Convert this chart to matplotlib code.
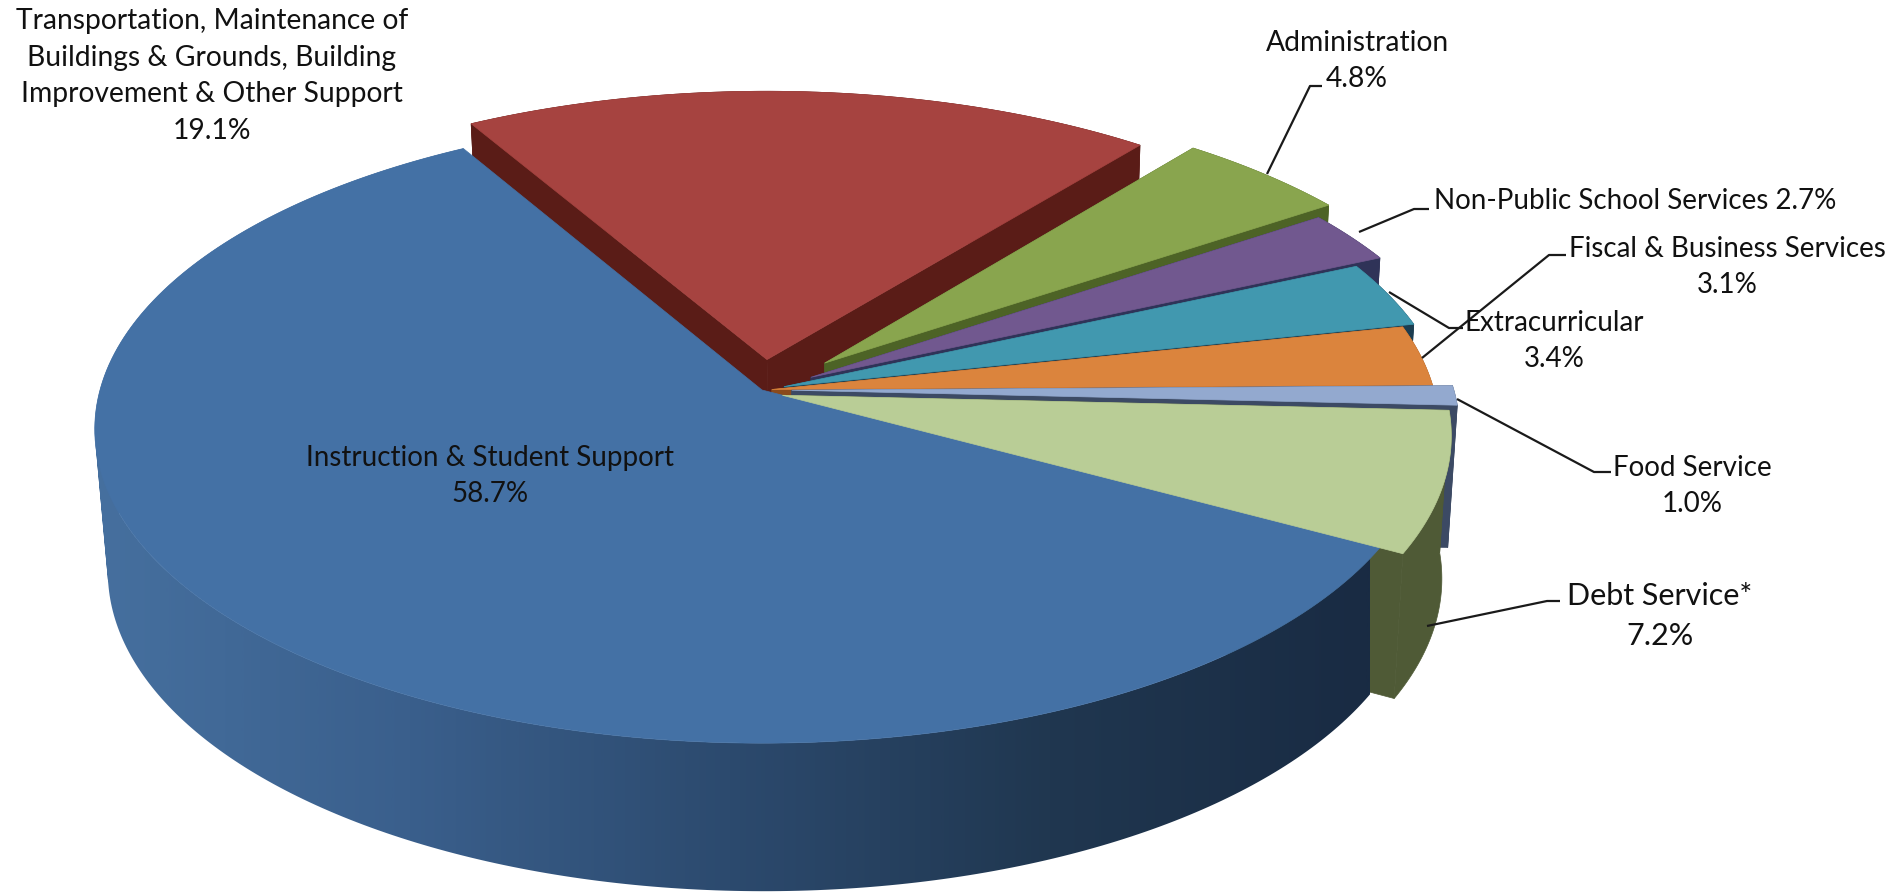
import numpy as np
import matplotlib
matplotlib.use('Agg')
import matplotlib.pyplot as plt
from matplotlib.colors import LinearSegmentedColormap
from matplotlib.patches import PathPatch
from matplotlib.path import Path

plt.rcParams['font.family'] = ['Lato', 'DejaVu Sans']

# clockwise from the red slice
categories = ['Transportation, Maintenance of\nBuildings & Grounds, Building\nImprovement & Other Support',
              'Administration', 'Non-Public School Services', 'Extracurricular',
              'Fiscal & Business Services', 'Food Service', 'Debt Service*',
              'Instruction & Student Support']
shares = [19.1, 4.8, 2.7, 3.4, 3.1, 1.0, 7.2, 58.7]
explode = [0.10, 0.13, 0.085, 0.035, 0.015, 0.045, 0.035, 0.0]
top_colors = ['#a64340', '#89a54e', '#71588f', '#4198af', '#db843d', '#93a9cf', '#b9cd96', '#4471a5']
wall_colors = ['#5a1c17', '#4d6326', '#2f3358', '#1c3d50', '#8a4a1c', '#3c4a64', '#4f5a36', '#1a2c44']

start_angle = 120.0
# debt slice slides along its lower edge, not along its middle
dir_override = {6: -29.0}

# camera: apex, radius, vertical squash, perspective for top and bottom disc
top_disc = (762.0, 391.0, 662.0, 309.0, 0.125)
bot_disc = (764.0, 533.0, 651.0, 314.3, 0.125)

# text position, size, leader line in pixels
label_pos = [(212, 76), (1357, 61), None, (1554, 341), (1727, 267), (1692, 486), (1660, 616), (490, 476)]
label_size = [20.3, 20.3, 20, 20, 20, 20, 22, 20]
leaders = [None,
           [(1267, 175), (1310, 87), (1322, 87)],
           [(1359, 233), (1414, 210), (1429, 210)],
           [(1389, 293), (1449, 329), (1463, 329)],
           [(1422, 359), (1549, 256), (1566, 256)],
           [(1457, 400), (1594, 473), (1611, 473)],
           [(1427, 627), (1547, 602), (1560, 602)],
           None]
nonpublic_pos = (1434, 201)


def project(disc, x, y):
    cx, cy, R, k, p = disc
    s = 1 + p * y
    return cx + R * x / s, cy - k * y / s


def rim(disc, a0, a1, ex, ey, n=60):
    t = np.radians(np.linspace(a0, a1, n))
    return project(disc, np.cos(t) + ex, np.sin(t) + ey)


fig = plt.figure(figsize=(18.96, 8.95), dpi=100)
ax = fig.add_axes([0, 0, 1, 1])

spans = np.array(shares) / 100 * 360
ends = start_angle - np.cumsum(spans)
starts = ends + spans


def offset(i):
    mid = (starts[i] + ends[i]) / 2
    d = np.radians(dir_override.get(i, mid))
    return explode[i] * np.cos(d), explode[i] * np.sin(d)


def draw_walls(i):
    ex, ey = offset(i)
    col = wall_colors[i]
    for a in (starts[i], ends[i]):
        t = np.radians(a)
        x0, y0 = project(top_disc, ex, ey)
        x1, y1 = project(top_disc, np.cos(t) + ex, np.sin(t) + ey)
        x2, y2 = project(bot_disc, np.cos(t) + ex, np.sin(t) + ey)
        x3, y3 = project(bot_disc, ex, ey)
        ax.fill([x0, x1, x2, x3], [y0, y1, y2, y3], color=col, lw=0.5, zorder=i * 2 + 1)
    xt, yt = rim(top_disc, starts[i], ends[i], ex, ey)
    xb, yb = rim(bot_disc, starts[i], ends[i], ex, ey)
    ax.fill(np.r_[xt, xb[::-1]], np.r_[yt, yb[::-1]], color=col, lw=0.5, zorder=i * 2 + 1)


def draw_top(i, z):
    ex, ey = offset(i)
    xt, yt = rim(top_disc, starts[i], ends[i], ex, ey, 200)
    x0, y0 = project(top_disc, ex, ey)
    ax.fill(np.r_[x0, xt], np.r_[y0, yt], color=top_colors[i], lw=0.5, zorder=z)


for i in range(6):
    draw_walls(i)
    draw_top(i, i * 2 + 2)
draw_walls(6)

# front wall of the big slice gets darker to the right
blue = 7
xt, yt = rim(top_disc, starts[blue], ends[blue], 0, 0, 300)
xb, yb = rim(bot_disc, starts[blue], ends[blue], 0, 0, 300)
verts = []
codes = []
for j in range(len(xt) - 1):
    quad = np.array([[xt[j], yt[j]], [xt[j + 1], yt[j + 1]], [xb[j + 1], yb[j + 1]], [xb[j], yb[j]]])
    x, y = quad[:, 0], quad[:, 1]
    area = np.sum(x * np.roll(y, -1) - np.roll(x, -1) * y)
    if area < 0:
        quad = quad[::-1]
    verts += list(quad) + [quad[0]]
    codes += [Path.MOVETO, Path.LINETO, Path.LINETO, Path.LINETO, Path.CLOSEPOLY]
wall = PathPatch(Path(verts, codes), transform=ax.transData, facecolor='none', edgecolor='none')
ax.add_patch(wall)
cmap = LinearSegmentedColormap.from_list('wall', ['#46709f', '#3a5f8c', '#2c4a6e', '#203750', '#192b43'])
grad = ax.imshow(np.linspace(0, 1, 512)[None, :], extent=(90, 1370, 895, 0), cmap=cmap, aspect='auto', zorder=20)
grad.set_clip_path(wall)
draw_top(blue, 21)
draw_top(6, 22)

for line in leaders:
    if line is not None:
        xs, ys = zip(*line)
        ax.plot(xs, ys, color='#1a1a1a', lw=1.6, zorder=30, solid_capstyle='butt')

for i, name in enumerate(categories):
    txt = '%s\n%.1f%%' % (name, shares[i])
    if label_pos[i] is None:
        ax.text(nonpublic_pos[0], nonpublic_pos[1], '%s %.1f%%' % (name, shares[i]), ha='left', va='center',
                fontsize=label_size[i], color='#111111', zorder=31)
    else:
        ax.text(label_pos[i][0], label_pos[i][1], txt, ha='center', va='center', multialignment='center',
                fontsize=label_size[i], color='#111111', linespacing=1.5, zorder=31)

ax.set_xlim(0, 1896)
ax.set_ylim(895, 0)
ax.axis('off')
fig.savefig('out.png', dpi=100)
